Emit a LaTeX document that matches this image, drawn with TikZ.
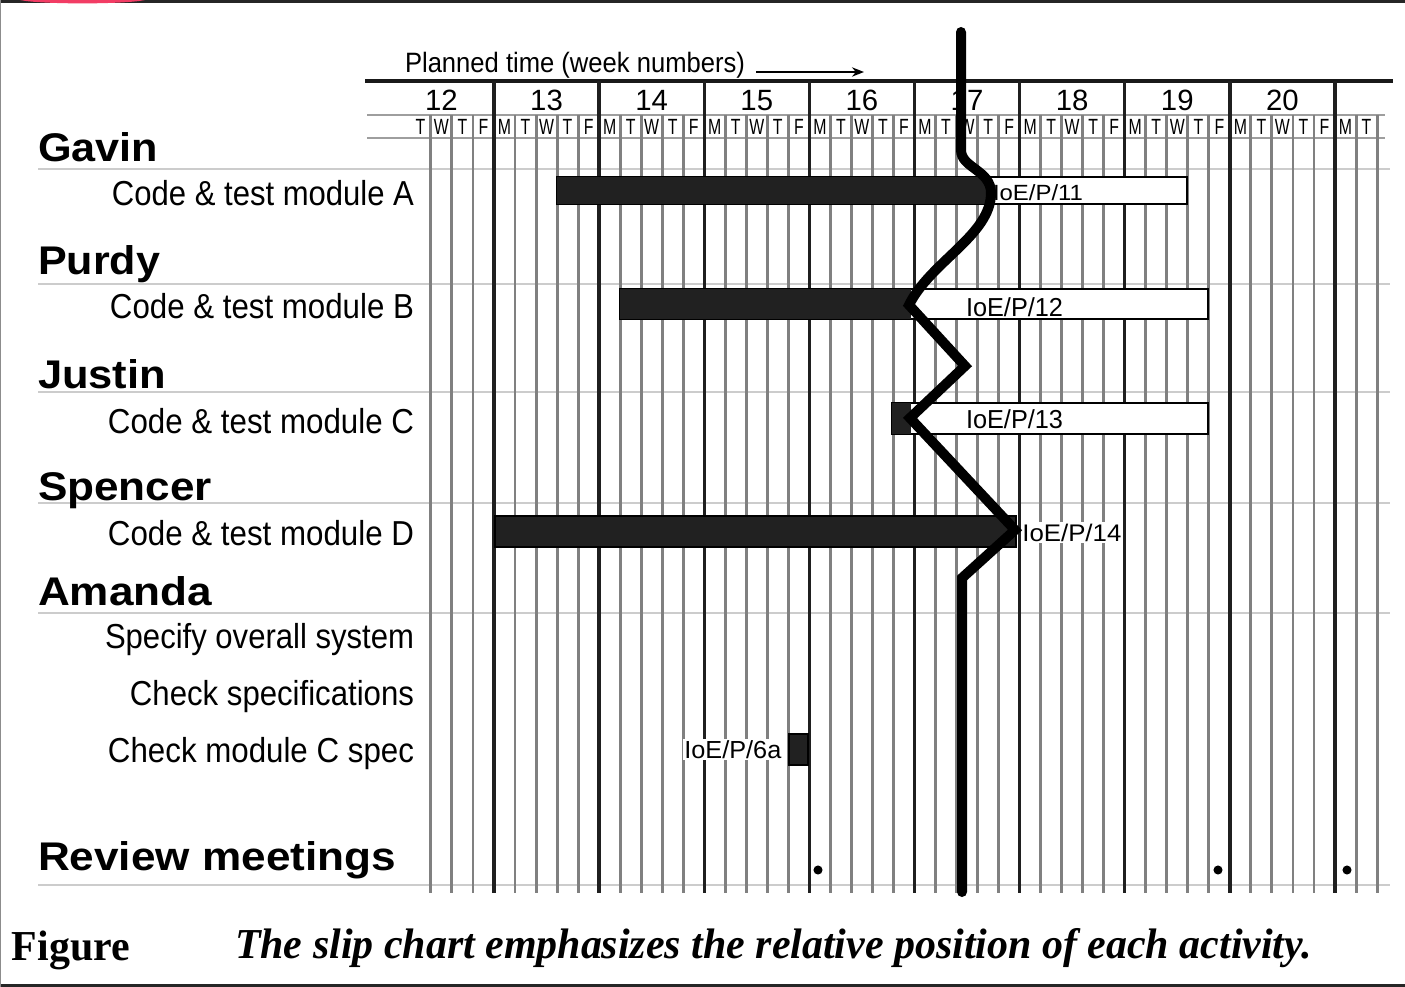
\documentclass[tikz,border=0pt]{standalone}
\usepackage{fontspec}
\setmainfont{Liberation Sans}
\newfontfamily\capfont{Liberation Serif}
\usepackage{graphicx}
\usetikzlibrary{arrows.meta}
\newlength\pxu \setlength\pxu{0.75pt}
\newcommand{\fitto}[2]{\resizebox{#1\pxu}{\height}{#2}}
\newcommand{\namef}{\fontsize{30}{36}\selectfont\bfseries}
\newcommand{\taskf}{\fontsize{26}{31}\selectfont}
\definecolor{artred}{HTML}{F23C64}
\tikzset{
  gridday/.style={draw=black!50, line width=2.2pt},
  gridweek/.style={draw=black!88, line width=2.5pt},
  rowline/.style={draw=black!20, line width=2.2pt},
  hdrline/.style={draw=black!38, line width=2pt},
  barbox/.style={draw=black, line width=1.8pt, fill=white},
  donefill/.style={fill=black!87},
  slipline/.style={draw=black, line width=7.5pt, line cap=round, line join=miter},
  txt/.style={inner sep=0pt, outer sep=0pt},
  ref/.style={inner sep=1pt, outer sep=0pt, fill=white},
  meet/.style={fill=black}
}
\begin{document}
\begin{tikzpicture}[x=0.75pt,y=-0.75pt]
\useasboundingbox (0,0) rectangle (1405,987);
\fill[white] (0,0) rectangle (1405,987);
% frame
\fill[black!85] (0,0) rectangle (1405,3);
\fill[black!85] (0,984) rectangle (1405,987);
\fill[black!45] (0,0) rectangle (1.2,987);
\fill[artred] (20,0) .. controls (40,4.5) and (125,4.5) .. (145,0) -- cycle;

% row lines
\foreach \y in {169,284,392,503,613,885} \draw[rowline] (38,\y) -- (1390,\y);
% header lines
\draw[hdrline] (367,115) -- (1385,115);
\draw[hdrline] (367,138) -- (1385,138);
\draw[black!90, line width=2.4pt] (365,81) -- (1393,81);

% day lines
\foreach \i in {2,...,47} {
  \pgfmathtruncatemacro\m{mod(\i,5)}
  \ifnum\m>0 \draw[gridday] ({388.875+\i*21.025},115) -- ({388.875+\i*21.025},893); \fi
}
% week lines
\foreach \i in {5,10,...,45} \draw[gridweek] ({388.875+\i*21.025},81) -- ({388.875+\i*21.025},893);

% week numbers
\foreach \w in {12,...,20}
  \node[txt, anchor=base, font=\fontsize{22}{26}\selectfont] (wk\w) at ({388.875+(\w-12)*105.125+52.5},111) {\w};
% day letters
\foreach \w in {12,...,21} {
  \foreach \d/\L in {0/M,1/T,2/W,3/T,4/F} {
    \pgfmathtruncatemacro\i{(\w-12)*5+\d}
    \ifnum\i>0 \ifnum\i<47
      \node[txt, anchor=base, font=\fontsize{16.5}{19}\selectfont] (day\i) at ({388.875+\i*21.025+10.5},134.5) {\scalebox{0.72}[1]{\L}};
    \fi\fi
  }
}

% planned time
\node[txt, anchor=base west, font=\fontsize{21}{25}\selectfont] (planned) at (405,73) {\fitto{340}{Planned time (week numbers)}};
\coordinate (arrst) at (756,72);
\coordinate (arrend) at (864,72);
\draw[line width=1.3pt, -{Stealth[length=9pt,width=7pt]}] (arrst) -- (arrend);

% names
\node[txt, anchor=base west] (gavin) at (38,162) {\namef\fitto{120}{Gavin}};
\node[txt, anchor=base west] (purdy) at (38,275) {\namef\fitto{122}{Purdy}};
\node[txt, anchor=base west] (justin) at (38,388) {\namef\fitto{128}{Justin}};
\node[txt, anchor=base west] (spencer) at (38,500) {\namef\fitto{174}{Spencer}};
\node[txt, anchor=base west] (amanda) at (38,605) {\namef\fitto{174}{Amanda}};
\node[txt, anchor=base west] (review) at (38,870) {\namef\fitto{358}{Review meetings}};

% tasks
\node[txt, anchor=base east] (ta) at (414,206) {\taskf\fitto{302}{Code \& test module A}};
\node[txt, anchor=base east] (tb) at (414,319) {\taskf\fitto{304}{Code \& test module B}};
\node[txt, anchor=base east] (tc) at (414,433) {\taskf\fitto{306}{Code \& test module C}};
\node[txt, anchor=base east] (td) at (414,545) {\taskf\fitto{306}{Code \& test module D}};
\node[txt, anchor=base east] (ts) at (414,648) {\taskf\fitto{309}{Specify overall system}};
\node[txt, anchor=base east] (tcs) at (414,705) {\taskf\fitto{284}{Check specifications}};
\node[txt, anchor=base east] (tcm) at (414,762) {\taskf\fitto{306}{Check module C spec}};

% bars
\draw[barbox] (557,177) rectangle (1187,204);
\fill[donefill] (557,177) rectangle (991,204);
\draw[barbox] (620,289) rectangle (1208,319);
\fill[donefill] (620,289) rectangle (911,319);
\draw[barbox] (892,403) rectangle (1208,434);
\fill[donefill] (892,403) rectangle (911,434);
\fill[donefill, draw=black, line width=1.5pt] (495,516) rectangle (1016,547);
\fill[donefill, draw=black, line width=1.5pt] (789,734) rectangle (808,765);

% bar labels
\node[txt, anchor=base west, font=\fontsize{16.5}{20}\selectfont] (l11) at (993,201) {\fitto{90}{IoE/P/11}};
\node[txt, anchor=base west, font=\fontsize{19.5}{23}\selectfont] (l12) at (966,316) {\fitto{97}{IoE/P/12}};
\node[txt, anchor=base west, font=\fontsize{19.5}{23}\selectfont] (l13) at (966,428) {\fitto{97}{IoE/P/13}};
\node[ref, anchor=base west, font=\fontsize{18}{22}\selectfont] (l14) at (1021,541) {\fitto{99}{IoE/P/14}};
\node[ref, anchor=base west, font=\fontsize{18.5}{22}\selectfont] (l6a) at (683,758) {\fitto{97}{IoE/P/6a}};

% review meeting dots
\fill[meet] (818,870) circle[radius=3.4pt];
\fill[meet] (1218,870) circle[radius=3.4pt];
\fill[meet] (1347,870) circle[radius=3.4pt];

% slip line
\draw[slipline] (961,32) -- (961,150) .. controls (961,168) and (991,170) .. (991,193)
  .. controls (991,235) and (930,262) .. (909,305) -- (965,366) -- (910,418)
  -- (1015,530) -- (962,578) -- (962,892);

% caption
\node[txt, anchor=base west, font=\capfont\bfseries\fontsize{32}{38}\selectfont] (fig) at (12,960) {\fitto{118}{Figure}};
\node[txt, anchor=base west, font=\capfont\bfseries\itshape\fontsize{32}{38}\selectfont] (cap) at (235,958) {\fitto{1077}{The slip chart emphasizes the relative position of each activity.}};
\end{tikzpicture}
\end{document}
